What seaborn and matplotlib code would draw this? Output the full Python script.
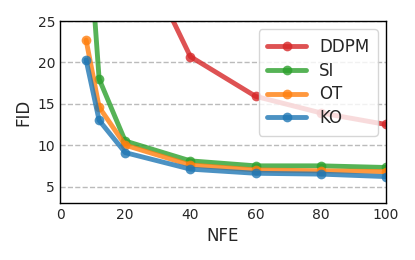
import numpy as np
import pandas as pd
import seaborn as sns
import matplotlib.pyplot as plt

# values
nfe = [8, 12, 20, 40, 60, 80, 100]
ddpm = [100.0, 60.0, 37.0, 20.7, 15.9, 13.9, 12.5]
si = [40.0, 18.0, 10.5, 8.1, 7.5, 7.5, 7.3]
ot = [22.7, 14.6, 10.0, 7.6, 7.0, 6.9, 6.8]
ko = [20.3, 13.0, 9.1, 7.1, 6.6, 6.5, 6.2]
methods = ["DDPM", "SI", "OT", "KO"]
colors = ["tab:red", "tab:green", "tab:orange", "tab:blue"]

sns.set_style("white")
plt.rcParams["font.family"] = ["DejaVu Sans"]

fig = plt.figure(figsize=(4.15, 2.6), dpi=100)
ax = fig.add_axes([0.1446, 0.219, 0.7855, 0.700])

for name, vals, c in zip(methods, [ddpm, si, ot, ko], colors):
    sns.lineplot(x=nfe, y=vals, ax=ax, marker="o", color=c, label=name,
                 linewidth=3.5, markersize=7, markeredgewidth=0, alpha=0.8)

ax.set_xlim(0, 100)
ax.set_ylim(3, 25)
ax.set_xticks([0, 20, 40, 60, 80, 100])
ax.set_yticks([5, 10, 15, 20, 25])
ax.yaxis.grid(True, linestyle="--", color="#bbbbbb", linewidth=1)
ax.tick_params(labelsize=10, length=0)
ax.set_xlabel("NFE", fontsize=12)
ax.set_ylabel("FID", fontsize=12)
for s in ax.spines.values():
    s.set_color("black")
    s.set_linewidth(1)
ax.legend(loc="upper right", fontsize=12, handlelength=2.3, borderpad=0.5,
          labelspacing=0.35)

fig.savefig("out.png", dpi=100)
